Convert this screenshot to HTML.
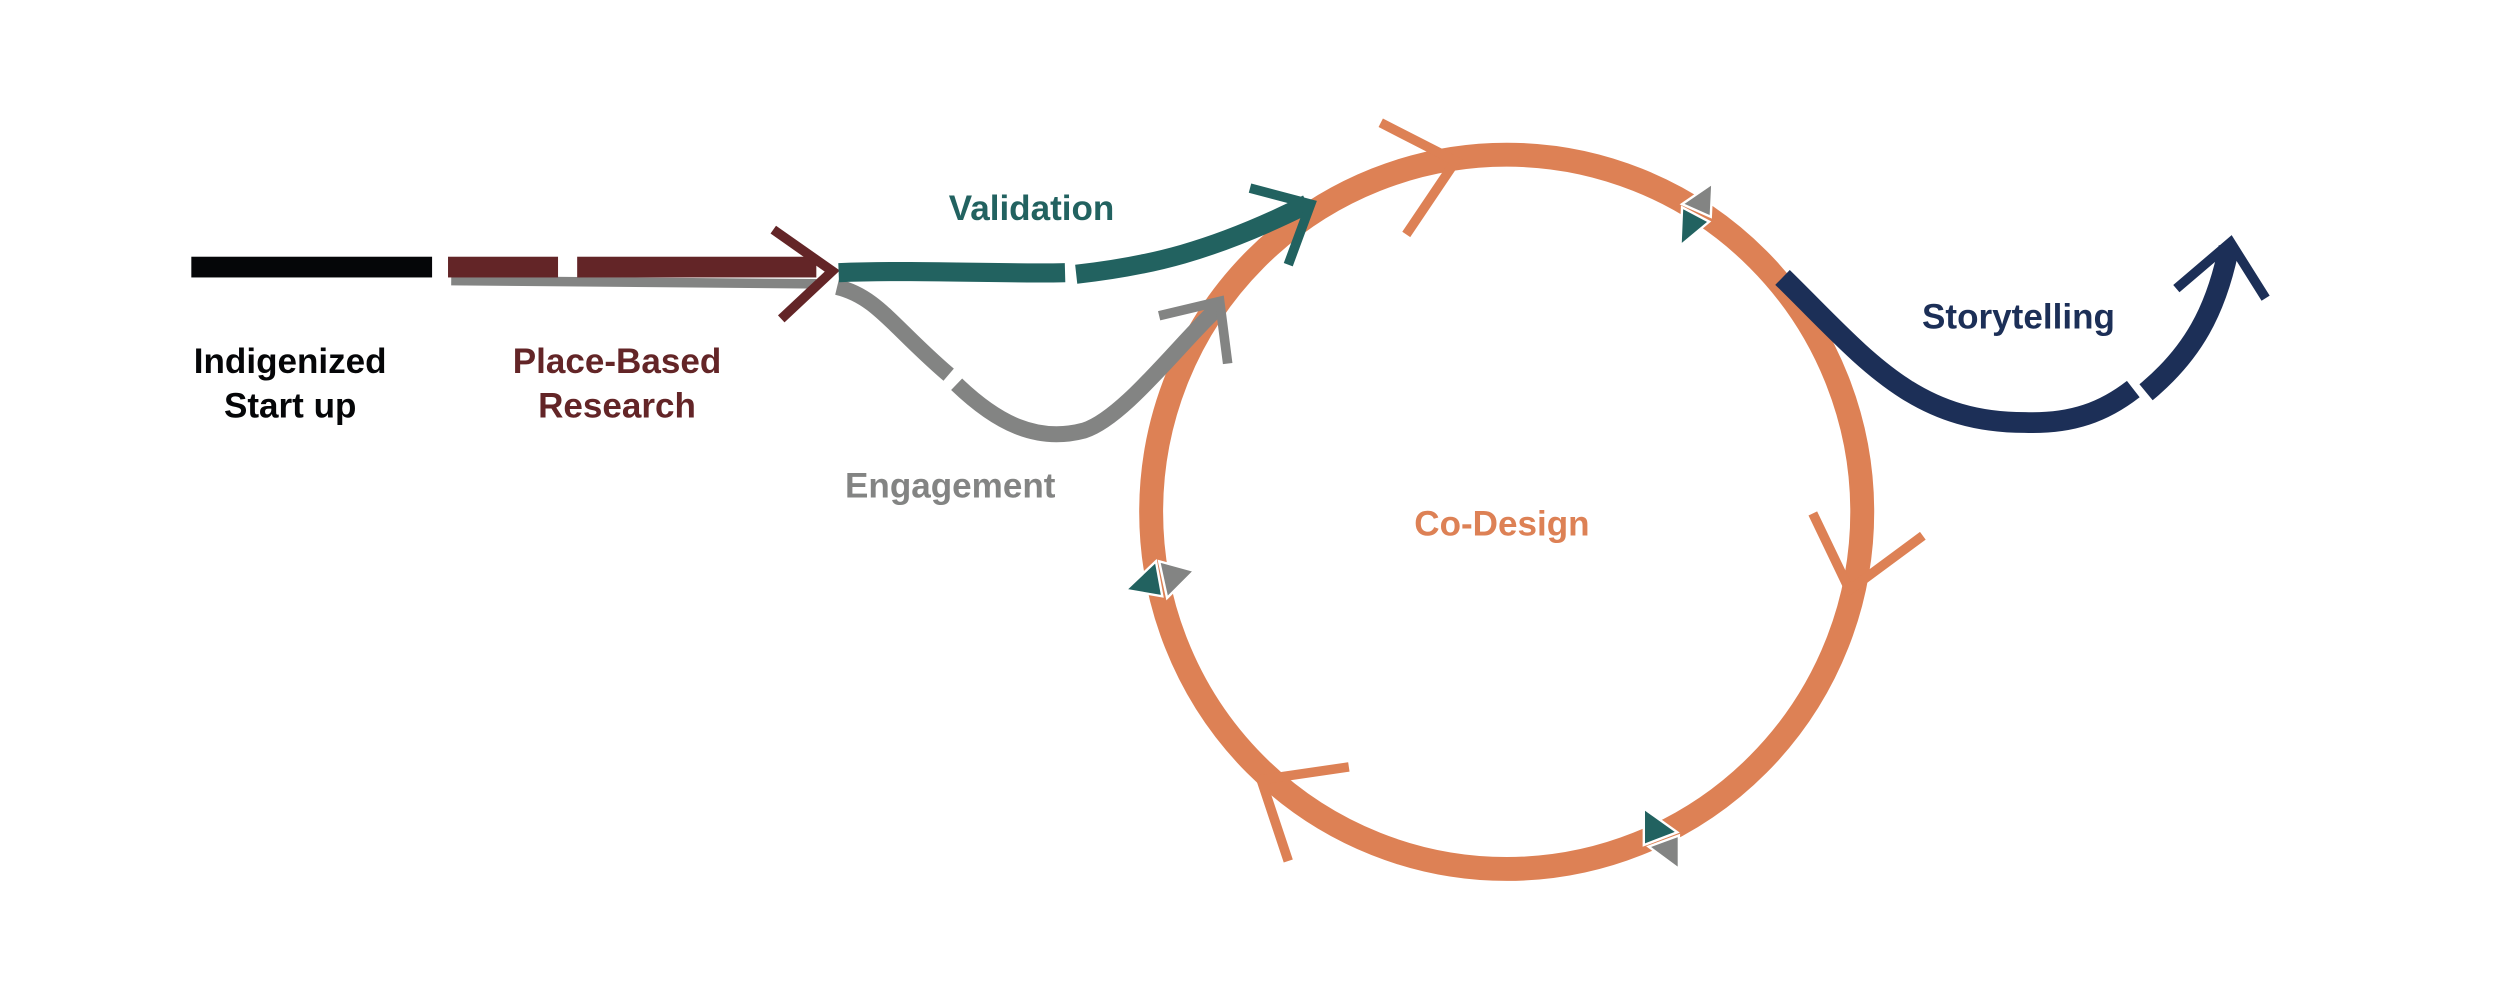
<!DOCTYPE html>
<html><head><meta charset="utf-8"><style>html,body{margin:0;padding:0;background:#fff}svg{display:block}</style></head>
<body>
<svg width="2500" height="983" viewBox="0 0 1568 616.5" xmlns="http://www.w3.org/2000/svg" font-family="Liberation Sans, sans-serif">
<rect width="1568" height="616.5" fill="#fff"/>
<!-- circle -->
<ellipse cx="945" cy="321" rx="223" ry="224" stroke="#dd8155" stroke-width="15" fill="none"/>
<!-- black bar -->
<rect x="120" y="161" width="151" height="13" fill="#050608"/>
<!-- grey underline -->
<path d="M283 176 L512 178" stroke="#838483" stroke-width="6" fill="none"/>
<!-- maroon dashes -->
<rect x="281" y="161" width="69" height="13" fill="#632527"/>
<rect x="362" y="161" width="150" height="13" fill="#632527"/>
<path d="M485 144 L522 170 L490 200" stroke="#632527" stroke-width="6" fill="none"/>
<!-- grey engagement -->
<path d="M525 180 C550 186 560 205 595 235" stroke="#838483" stroke-width="10" fill="none"/>
<path d="M600 241 C625 265 650 278 680 270 C705 262 740 215 765 192" stroke="#838483" stroke-width="10" fill="none"/>
<path d="M727 198 L765 189 L770 228" stroke="#838483" stroke-width="6" fill="none"/>
<!-- teal validation -->
<path d="M526 171 C580 169 630 172 668 171" stroke="#226260" stroke-width="12" fill="none"/>
<path d="M675 172 C720 167 760 158 820 128" stroke="#226260" stroke-width="12" fill="none"/>
<path d="M784 118 L822 128 L808 166" stroke="#226260" stroke-width="6" fill="none"/>
<!-- orange arrowheads -->
<path d="M866 77 L913 101 L882 147" stroke="#dd8155" stroke-width="6" fill="none"/>
<path d="M1137 322 L1160 370 L1206 336" stroke="#dd8155" stroke-width="6" fill="none"/>
<path d="M846 481 L791 489 L808 540" stroke="#dd8155" stroke-width="6" fill="none"/>
<!-- small triangles -->
<polygon points="1055,128 1074,115 1073,136" fill="#838483" stroke="#fff" stroke-width="1.5"/>
<polygon points="1055,130 1072,139 1054,154" fill="#226260" stroke="#fff" stroke-width="1.5"/>
<polygon points="706,370 725,352 729,374" fill="#226260" stroke="#fff" stroke-width="1.5"/>
<polygon points="727,352 749,358 732,375" fill="#838483" stroke="#fff" stroke-width="1.5"/>
<polygon points="1031,507 1052,522 1031,530" fill="#226260" stroke="#fff" stroke-width="1.5"/>
<polygon points="1034,531 1053,524 1053,545" fill="#838483" stroke="#fff" stroke-width="1.5"/>
<!-- storytelling -->
<path d="M1118 174 C1170 225 1200 265 1270 265 C1300 266 1320 258 1338 244" stroke="#1c2f57" stroke-width="13" fill="none"/>
<path d="M1346 246 C1375 222 1390 195 1398 155" stroke="#1c2f57" stroke-width="13" fill="none"/>
<path d="M1365 181 L1399 152 L1421 187" stroke="#1c2f57" stroke-width="6" fill="none"/>
<!-- texts -->
<g font-size="22" font-weight="bold" text-anchor="middle">
<text x="182" y="234" fill="#050608">Indigenized</text>
<text x="182" y="262" fill="#050608">Start up</text>
<text x="387" y="234" fill="#632527">Place-Based</text>
<text x="387" y="262" fill="#632527">Research</text>
<text x="647" y="138" fill="#226260">Validation</text>
<text x="596" y="312" fill="#838483">Engagement</text>
<text x="942" y="336" fill="#dd8155">Co-Design</text>
<text x="1266" y="206" fill="#1c2f57">Storytelling</text>
</g>
</svg>
</body></html>
